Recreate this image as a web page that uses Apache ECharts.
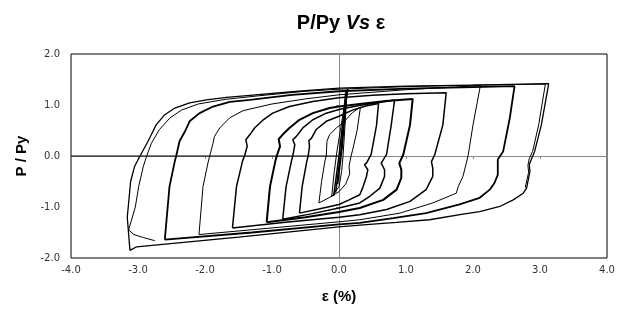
<!DOCTYPE html>
<html>
<head>
<meta charset="utf-8">
<style>
  html, body { margin: 0; padding: 0; background: #fff; }
  #chart { width: 641px; height: 332px; }
</style>
<script src="https://cdn.jsdelivr.net/npm/echarts@6/dist/echarts.min.js"></script>
</head>
<body>
<div id="chart"></div>
<script>
// Axis ticks
const xTicks = [-4, -3, -2, -1, 0, 1, 2, 3, 4];
const yTicks = [-2, -1, 0, 1, 2];

// Hysteresis cycles: strain (%) vs normalised load P/Py
const cycleElastic = [[-0.11,-0.80],[-0.07,-0.30],[-0.03,0.10],[0.02,0.50],[0.07,0.90],[0.12,1.28],[0.09,0.60],[0.06,0.00],[0.04,-0.30],[0.00,-0.60],[-0.11,-0.80]];
const elasticA = [[-0.08,-0.78],[0.00,0.00],[0.06,0.70],[0.10,1.25]];
const elasticB = [[-0.05,-0.72],[0.03,0.10],[0.08,0.80],[0.12,1.30]];
const elasticC = [[-0.02,-0.55],[0.05,0.20],[0.10,1.00],[0.13,1.32]];

const cycle1 = [[-0.30,-0.92],[-0.26,-0.50],[-0.21,-0.10],[-0.19,0.00],[-0.18,0.29],[-0.14,0.42],[-0.04,0.55],[0.06,0.65],[0.20,0.85],[0.32,0.96],
  [0.27,0.50],[0.20,0.10],[0.18,0.00],[0.15,-0.20],[0.16,-0.35],[0.10,-0.55],[0.00,-0.70],[-0.15,-0.82],[-0.30,-0.92]];

const cycle2 = [[-0.59,-1.12],[-0.55,-0.60],[-0.48,-0.10],[-0.46,0.00],[-0.44,0.19],[-0.45,0.30],[-0.41,0.35],[-0.34,0.52],[-0.19,0.68],[0.00,0.78],[0.20,0.90],[0.40,0.98],[0.59,1.03],
  [0.56,0.60],[0.48,0.03],[0.41,-0.14],[0.38,-0.17],[0.43,-0.27],[0.41,-0.40],[0.36,-0.60],[0.31,-0.76],[0.15,-0.86],[0.00,-0.95],[-0.30,-1.04],[-0.59,-1.12]];

const cycle3 = [[-0.84,-1.24],[-0.79,-0.60],[-0.71,-0.10],[-0.69,0.00],[-0.66,0.22],[-0.69,0.32],[-0.64,0.38],[-0.54,0.55],[-0.39,0.71],[-0.19,0.84],[0.00,0.91],[0.30,0.99],[0.60,1.05],[0.83,1.10],
  [0.78,0.61],[0.71,0.03],[0.63,-0.14],[0.68,-0.27],[0.68,-0.40],[0.61,-0.63],[0.46,-0.79],[0.31,-0.92],[0.00,-1.02],[-0.40,-1.13],[-0.84,-1.24]];

const cycle4 = [[-1.08,-1.30],[-1.03,-0.60],[-0.95,-0.10],[-0.93,0.00],[-0.88,0.19],[-0.90,0.33],[-0.84,0.42],[-0.74,0.55],[-0.59,0.71],[-0.39,0.84],[-0.14,0.94],[0.00,0.97],[0.31,1.02],[0.70,1.08],[1.10,1.12],
  [1.06,0.61],[0.96,0.03],[0.90,-0.14],[0.93,-0.27],[0.93,-0.43],[0.86,-0.66],[0.66,-0.86],[0.31,-1.02],[0.00,-1.10],[-0.50,-1.20],[-1.08,-1.30]];

const cycle5 = [[-1.59,-1.41],[-1.53,-0.60],[-1.44,-0.10],[-1.41,0.00],[-1.37,0.19],[-1.39,0.32],[-1.33,0.42],[-1.26,0.55],[-1.13,0.71],[-0.99,0.84],[-0.74,0.97],[-0.39,1.07],[0.00,1.14],[0.50,1.19],[1.00,1.22],[1.60,1.24],
  [1.55,0.61],[1.43,0.03],[1.38,-0.11],[1.40,-0.24],[1.40,-0.40],[1.30,-0.66],[1.06,-0.89],[0.71,-1.05],[0.31,-1.15],[0.00,-1.20],[-0.80,-1.30],[-1.59,-1.41]];

const cycle6 = [[-2.09,-1.54],[-2.03,-0.60],[-1.95,-0.10],[-1.93,0.00],[-1.88,0.25],[-1.86,0.38],[-1.78,0.55],[-1.63,0.75],[-1.43,0.89],[-1.00,1.02],[-0.50,1.12],[0.00,1.20],[1.00,1.30],[2.11,1.38],
  [2.00,0.61],[1.93,0.03],[1.90,-0.14],[1.85,-0.40],[1.78,-0.60],[1.75,-0.73],[1.40,-0.92],[0.91,-1.12],[0.31,-1.25],[0.00,-1.29],[-1.00,-1.41],[-2.09,-1.54]];

const cycle7 = [[-2.60,-1.64],[-2.53,-0.60],[-2.45,-0.10],[-2.43,0.00],[-2.38,0.29],[-2.30,0.48],[-2.23,0.68],[-2.08,0.84],[-1.88,0.97],[-1.63,1.06],[-1.33,1.10],[-0.70,1.20],[0.00,1.27],[1.00,1.32],[2.00,1.35],[2.62,1.37],
  [2.55,0.75],[2.45,0.09],[2.37,-0.07],[2.37,-0.37],[2.32,-0.53],[2.25,-0.66],[2.10,-0.82],[1.80,-0.95],[1.30,-1.12],[0.81,-1.22],[0.31,-1.31],[0.00,-1.34],[-1.30,-1.50],[-2.60,-1.64]];

const cycle8 = [[-3.12,-1.85],[-3.16,-1.20],[-3.11,-0.50],[-3.05,-0.20],[-2.97,0.00],[-2.85,0.29],[-2.80,0.42],[-2.73,0.61],[-2.60,0.81],[-2.45,0.94],[-2.23,1.04],[-1.98,1.10],[-1.68,1.15],[-1.33,1.19],[-0.70,1.26],[0.00,1.33],[1.00,1.37],[2.00,1.39],[3.13,1.42],
  [3.02,0.61],[2.92,0.09],[2.87,-0.07],[2.84,-0.17],[2.85,-0.30],[2.80,-0.63],[2.75,-0.73],[2.60,-0.86],[2.40,-0.99],[2.10,-1.09],[1.85,-1.14],[1.35,-1.25],[0.86,-1.30],[0.36,-1.35],[0.00,-1.39],[-1.50,-1.59],[-3.02,-1.78],[-3.12,-1.85]];

const cycle8b = [[-2.75,-1.66],[-2.92,-1.60],[-3.06,-1.54],[-3.14,-1.45],[-3.04,-1.00],[-2.99,-0.60],[-2.92,-0.20],[-2.87,0.00],[-2.80,0.25],[-2.68,0.52],[-2.52,0.75],[-2.35,0.90],[-2.10,1.02],[-1.70,1.11],[-1.20,1.18],[-0.50,1.27],[0.00,1.31],[1.00,1.36],[2.00,1.39],[3.08,1.41],
  [2.98,0.61],[2.89,0.09],[2.84,-0.05],[2.82,-0.18],[2.83,-0.32],[2.78,-0.62]];

const baseLine = [[-4,0],[0,0]];

const chart = echarts.init(document.getElementById('chart'));

const labelFont = { fontFamily: 'DejaVu Sans', fontSize: 10, color: '#333' };

function loop(data, width) {
  return {
    type: 'line', data: data, xAxisIndex: 0, yAxisIndex: 0,
    showSymbol: false, symbol: 'none', smooth: false, silent: true,
    lineStyle: { color: '#000', width: width }
  };
}

chart.setOption({
  animation: false,
  backgroundColor: '#fff',
  title: {
    text: '{a|P/Py }{b|Vs}{a| ε}',
    left: 336, top: 8, textAlign: 'center',
    textStyle: {
      rich: {
        a: { fontFamily: 'Liberation Sans', fontWeight: 'bold', fontSize: 20, color: '#000' },
        b: { fontFamily: 'Liberation Sans', fontWeight: 'bold', fontStyle: 'italic', fontSize: 20, color: '#000' }
      }
    }
  },
  grid: { left: 71, right: 34, top: 54, bottom: 74, show: true, borderColor: '#000', borderWidth: 1, backgroundColor: 'transparent' },
  xAxis: [
    {
      type: 'value', min: xTicks[0], max: xTicks[xTicks.length - 1], interval: 1,
      position: 'bottom',
      axisLine: { show: false, onZero: false },
      axisTick: { show: false },
      splitLine: { show: false },
      axisLabel: Object.assign({ margin: 7, formatter: v => v.toFixed(1) }, labelFont),
      name: 'ε (%)', nameLocation: 'middle', nameGap: 31,
      nameTextStyle: { fontFamily: 'Liberation Sans', fontWeight: 'bold', fontSize: 15, color: '#000' }
    },
    {
      type: 'value', min: xTicks[0], max: xTicks[xTicks.length - 1], interval: 1,
      position: 'bottom',
      axisLine: { show: true, onZero: true, onZeroAxisIndex: 0, lineStyle: { color: '#888', width: 1 } },
      axisTick: { show: true, length: 3, lineStyle: { color: '#888' } },
      axisLabel: { show: false },
      splitLine: { show: false }
    }
  ],
  yAxis: [
    {
      type: 'value', min: yTicks[0], max: yTicks[yTicks.length - 1], interval: 1,
      position: 'left',
      axisLine: { show: false, onZero: false },
      axisTick: { show: false },
      splitLine: { show: false },
      axisLabel: Object.assign({ margin: 11, formatter: v => v.toFixed(1) }, labelFont),
      name: 'P / Py', nameLocation: 'middle', nameGap: 42, nameRotate: 90,
      nameTextStyle: { fontFamily: 'Liberation Sans', fontWeight: 'bold', fontSize: 15, color: '#000' }
    },
    {
      type: 'value', min: yTicks[0], max: yTicks[yTicks.length - 1], interval: 1,
      position: 'left',
      axisLine: { show: true, onZero: true, onZeroAxisIndex: 0, lineStyle: { color: '#888', width: 1 } },
      axisTick: { show: true, length: 3, lineStyle: { color: '#888' } },
      axisLabel: { show: false },
      splitLine: { show: false }
    }
  ],
  series: [
    loop(baseLine, 1),
    loop(cycleElastic, 1),
    loop(elasticA, 1.5),
    loop(elasticB, 1.5),
    loop(elasticC, 1.5),
    loop(cycle1, 1),
    loop(cycle2, 1.5),
    loop(cycle3, 1.5),
    loop(cycle4, 2),
    loop(cycle5, 1.5),
    loop(cycle6, 1),
    loop(cycle7, 1.8),
    loop(cycle8, 1.3),
    loop(cycle8b, 1)
  ]
});
</script>
</body>
</html>
